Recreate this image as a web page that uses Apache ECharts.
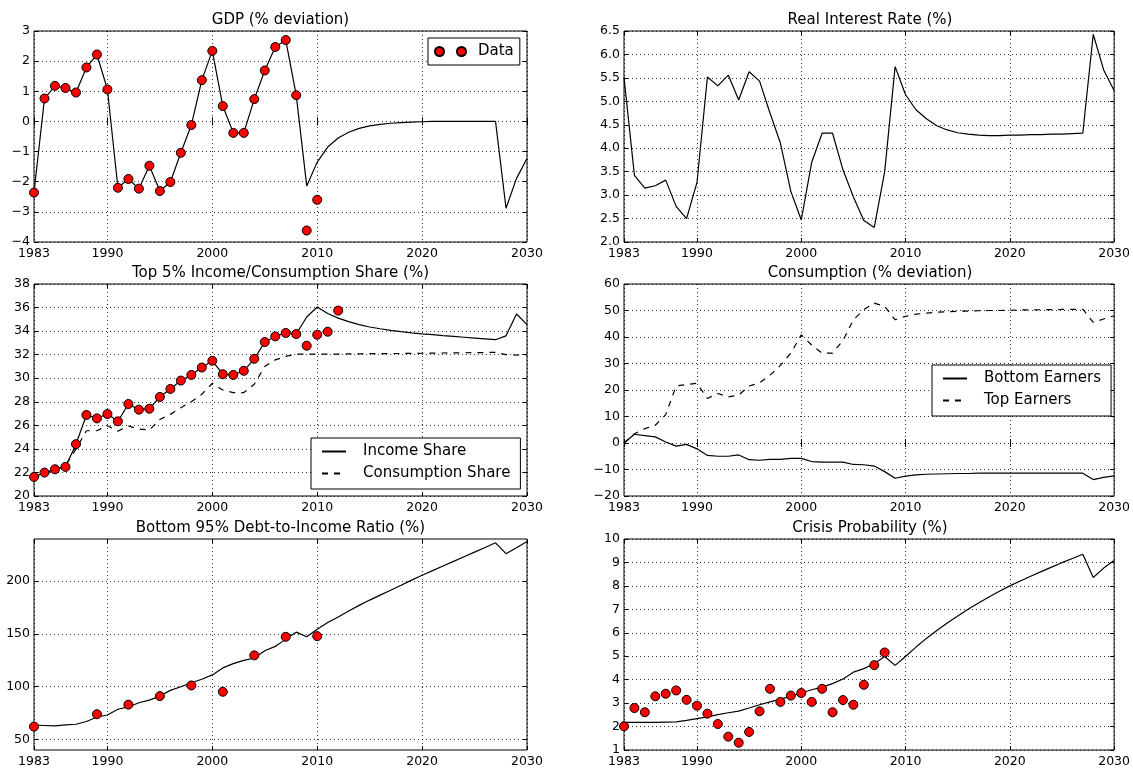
<!DOCTYPE html>
<html><head><meta charset="utf-8">
<script src="https://cdn.jsdelivr.net/npm/echarts@6/dist/echarts.min.js"></script>
<style>html,body{margin:0;padding:0;background:#fff}#c{width:1133px;height:768px}</style>
</head><body><div id="c"></div>
<script>
const years = [1983,1984,1985,1986,1987,1988,1989,1990,1991,1992,1993,1994,1995,1996,1997,1998,1999,2000,2001,2002,2003,2004,2005,2006,2007,2008,2009,2010,2011,2012,2013,2014,2015,2016,2017,2018,2019,2020,2021,2022,2023,2024,2025,2026,2027,2028,2029,2030];
const xTicks = [1983,1990,2000,2010,2020,2030];
const debtTicks = [50,100,150,200];
const titles = ['GDP (% deviation)','Real Interest Rate (%)','Top 5% Income/Consumption Share (%)','Consumption (% deviation)','Bottom 95% Debt-to-Income Ratio (%)','Crisis Probability (%)'];

const gdpModel = [-2.36,0.76,1.18,1.11,0.96,1.79,2.22,1.06,-2.20,-1.91,-2.23,-1.47,-2.31,-2.01,-1.04,-0.12,1.37,2.34,0.51,-0.38,-0.38,0.74,1.69,2.47,2.70,0.87,-2.14,-1.35,-0.85,-0.55,-0.36,-0.23,-0.15,-0.10,-0.06,-0.04,-0.02,-0.01,0,0,0,0,0,0,0,-2.88,-1.89,-1.23];
const gdpData = [-2.36,0.76,1.18,1.11,0.96,1.79,2.22,1.06,-2.20,-1.91,-2.23,-1.47,-2.31,-2.01,-1.04,-0.12,1.37,2.34,0.51,-0.38,-0.38,0.74,1.69,2.47,2.70,0.87,-3.62,-2.60];

const interestRate = [5.51,3.42,3.15,3.20,3.32,2.76,2.50,3.27,5.52,5.33,5.56,5.03,5.63,5.43,4.75,4.11,3.08,2.47,3.70,4.32,4.32,3.54,2.96,2.46,2.31,3.50,5.74,5.14,4.82,4.63,4.48,4.39,4.33,4.30,4.28,4.27,4.27,4.28,4.28,4.29,4.29,4.30,4.30,4.31,4.32,6.43,5.67,5.23];

const incomeShare = [21.62,21.99,22.27,22.47,24.40,26.88,26.59,26.96,26.34,27.81,27.33,27.41,28.41,29.09,29.80,30.28,30.91,31.48,30.34,30.28,30.63,31.65,33.07,33.55,33.84,33.75,35.2,36.05,35.5,35.1,34.8,34.55,34.35,34.2,34.07,33.95,33.85,33.77,33.7,33.62,33.55,33.48,33.41,33.34,33.27,33.6,35.45,34.55];
const consumptionShare = [21.48,21.9,22.19,22.6,23.98,25.54,25.54,25.97,25.51,25.94,25.68,25.6,26.5,26.93,27.5,28.0,28.64,29.57,29.0,28.78,28.78,29.49,31.0,31.56,31.85,32.05,32.05,32.05,32.05,32.05,32.06,32.07,32.08,32.09,32.1,32.1,32.11,32.12,32.13,32.14,32.15,32.16,32.17,32.18,32.2,32.0,31.96,32.0];
const incomeData = [21.62,21.99,22.27,22.47,24.40,26.88,26.59,26.96,26.34,27.81,27.33,27.41,28.41,29.09,29.80,30.28,30.91,31.48,30.34,30.28,30.63,31.65,33.07,33.55,33.84,33.75,32.76,33.69,33.95,35.74];

const bottomEarners = [0,3.3,2.8,2.3,0.4,-1.2,-0.5,-2.2,-4.7,-5.0,-5.0,-4.5,-6.3,-6.5,-6.2,-6.2,-5.8,-5.8,-7.0,-7.2,-7.2,-7.2,-8.1,-8.2,-8.7,-10.8,-13.3,-12.5,-12.0,-11.8,-11.7,-11.6,-11.5,-11.5,-11.4,-11.4,-11.4,-11.4,-11.4,-11.4,-11.4,-11.4,-11.4,-11.4,-11.4,-13.8,-13.0,-12.4];
const topEarners = [0,3.5,5.4,6.7,10.7,21.5,22.1,22.5,16.8,18.7,17.4,18.1,21.5,22.7,25.6,29.3,33.9,40.8,37.0,33.9,33.9,38.7,46.5,50.3,52.8,51.6,46.5,47.8,48.6,49.0,49.4,49.5,49.7,49.8,49.9,50.0,50.0,50.1,50.2,50.2,50.3,50.3,50.4,50.4,50.5,45.5,46.8,48.0];

const debtModel = [63.5,63.2,62.9,63.8,64.4,67.0,71.3,73.2,78.6,80.8,84.8,87.3,91.1,96.5,100.0,103.7,107.1,111.2,117.8,121.9,125.0,127.2,134.1,138.2,145.1,151.7,147.3,154.5,160.8,166.1,171.8,177.1,182.1,186.8,191.5,196.2,201.0,205.6,210.0,214.4,218.8,223.2,227.6,232.0,236.4,226.1,231.8,237.7];
const debtDataYears = [1983,1989,1992,1995,1998,2001,2004,2007,2010];
const debtData = [62.2,73.9,83.0,91.1,101.2,95.2,129.7,147.3,147.9];

const crisisModel = [2.18,2.18,2.18,2.18,2.19,2.20,2.26,2.34,2.41,2.51,2.59,2.66,2.79,2.93,3.05,3.17,3.29,3.43,3.57,3.68,3.83,4.03,4.32,4.47,4.68,4.99,4.61,4.99,5.39,5.76,6.10,6.42,6.72,7.00,7.27,7.53,7.77,8.00,8.21,8.41,8.61,8.80,8.99,9.17,9.35,8.36,8.76,9.08];
const crisisData = [2.01,2.79,2.61,3.29,3.40,3.54,3.14,2.89,2.55,2.11,1.57,1.31,1.77,2.65,3.61,3.05,3.32,3.43,3.05,3.61,2.61,3.13,2.93,3.78,4.62,5.16];

const FONT = 'DejaVu Sans';
const gridPos = [[34,31,493,211],[624,31,492,211],[34,284,493,212],[624,284,492,212],[34,539,493,211],[624,539,492,211]];
const titlePos = [[280.5,13],[870,13],[280.5,266],[870,266],[280.5,521],[870,521]];
const yRanges = [
  {min:-4,max:3,interval:1},
  {min:2,max:6.5,interval:0.5},
  {min:20,max:38,interval:2},
  {min:-20,max:60,interval:10},
  {min:40,max:240,custom:debtTicks},
  {min:1,max:10,interval:1}
];
const minus = v => String(v).replace('-', '\u2212');
const yFormat = [minus, v => v.toFixed(1), minus, minus, minus, minus];

const pairs = (xs, ys) => ys.map((v, k) => [xs[k], v]);
const gridLine = {color:'#000', width:0.8, type:[1,3]};

const grids = [], xAxes = [], yAxes = [], titleArr = [];
gridPos.forEach((g, i) => {
  grids.push({left:g[0], top:g[1], width:g[2], height:g[3], show:true, borderColor:'#000', borderWidth:1, backgroundColor:'#fff'});
  titleArr.push({text:titles[i], left:titlePos[i][0], top:titlePos[i][1], textAlign:'center', padding:0,
    textStyle:{fontFamily:FONT, fontSize:15, fontWeight:'normal', color:'#000'}});
});
for (let t = 0; t < 2; t++) {
  gridPos.forEach((g, i) => {
    const top = t === 1;
    xAxes.push({type:'value', gridIndex:i, position: top ? 'top' : 'bottom', min:1983, max:2030,
      axisLine:{show:false},
      axisTick:{show:true, inside:true, length:4, lineStyle:{color:'#000', width:1}, customValues:xTicks},
      axisLabel:{show:!top, customValues:xTicks, color:'#000', fontSize:12.5, fontFamily:FONT, margin:5, formatter: v => String(v)},
      splitLine:{show:!top, lineStyle:gridLine}
    });
    const r = yRanges[i];
    const ya = {type:'value', gridIndex:i, position: top ? 'right' : 'left', min:r.min, max:r.max,
      axisLine:{show:false},
      axisTick:{show:true, inside:true, length:4, lineStyle:{color:'#000', width:1}},
      axisLabel:{show:!top, color:'#000', fontSize:12.5, fontFamily:FONT, margin:4, formatter:yFormat[i]},
      splitLine:{show:!top, lineStyle:gridLine}
    };
    if (r.custom) { ya.axisTick.customValues = r.custom; ya.axisLabel.customValues = r.custom; }
    else ya.interval = r.interval;
    yAxes.push(ya);
  });
}

const lineS = (name, i, ys, dashed) => ({type:'line', name, xAxisIndex:i, yAxisIndex:i, data:pairs(years, ys),
  symbol:'none', showSymbol:false, silent:true, z:3,
  lineStyle:{color:'#000', width:1.2, type: dashed ? [6,6] : 'solid'}, itemStyle:{color:'#000'}});
const dotS = (name, i, xs, ys) => ({type:'scatter', name, xAxisIndex:i, yAxisIndex:i, data:pairs(xs, ys),
  symbol:'circle', symbolSize:9, silent:true, z:5,
  itemStyle:{color:'#ff0000', borderColor:'#000', borderWidth:1, opacity:1}});

const series = [
  lineS('GDP Model', 0, gdpModel),
  dotS('Data', 0, years, gdpData),
  lineS('Real Interest Rate', 1, interestRate),
  lineS('Income Share', 2, incomeShare),
  lineS('Consumption Share', 2, consumptionShare, true),
  dotS('Income Data', 2, years, incomeData),
  lineS('Bottom Earners', 3, bottomEarners),
  lineS('Top Earners', 3, topEarners, true),
  lineS('Debt-to-Income', 4, debtModel),
  dotS('Debt Data', 4, debtDataYears, debtData),
  lineS('Crisis Probability', 5, crisisModel),
  dotS('Crisis Data', 5, years, crisisData)
];

const legStyle = {fontFamily:FONT, fontSize:15, color:'#000'};
const legends = [
  {data:[{name:'Data', icon:'path://M0,4.5A4.5,4.5,0,1,1,9,4.5A4.5,4.5,0,1,1,0,4.5Z M22,4.5A4.5,4.5,0,1,1,31,4.5A4.5,4.5,0,1,1,22,4.5Z'}],
   left:428, top:38, orient:'vertical', padding:[6,6,6,6], itemWidth:31, itemHeight:9, selectedMode:false,
   borderColor:'#000', borderWidth:1, borderRadius:0, backgroundColor:'#fff',
   textStyle:Object.assign({padding:[0,0,0,7]}, legStyle)},
  {data:['Income Share','Consumption Share'], left:311, top:438, orient:'vertical', padding:[6,10,8,10],
   itemWidth:24, itemHeight:10, itemGap:7, selectedMode:false, itemStyle:{opacity:0},
   borderColor:'#000', borderWidth:1, borderRadius:0, backgroundColor:'#fff',
   textStyle:Object.assign({padding:[0,0,0,12]}, legStyle)},
  {data:['Bottom Earners','Top Earners'], left:932, top:365, orient:'vertical', padding:[6,10,8,10],
   itemWidth:24, itemHeight:10, itemGap:7, selectedMode:false, itemStyle:{opacity:0},
   borderColor:'#000', borderWidth:1, borderRadius:0, backgroundColor:'#fff',
   textStyle:Object.assign({padding:[0,0,0,12]}, legStyle)}
];

const chart = echarts.init(document.getElementById('c'), null, {renderer:'canvas'});
chart.setOption({
  animation:false,
  backgroundColor:'#fff',
  title:titleArr,
  grid:grids,
  xAxis:xAxes,
  yAxis:yAxes,
  legend:legends,
  series:series
});
</script>
</body></html>
